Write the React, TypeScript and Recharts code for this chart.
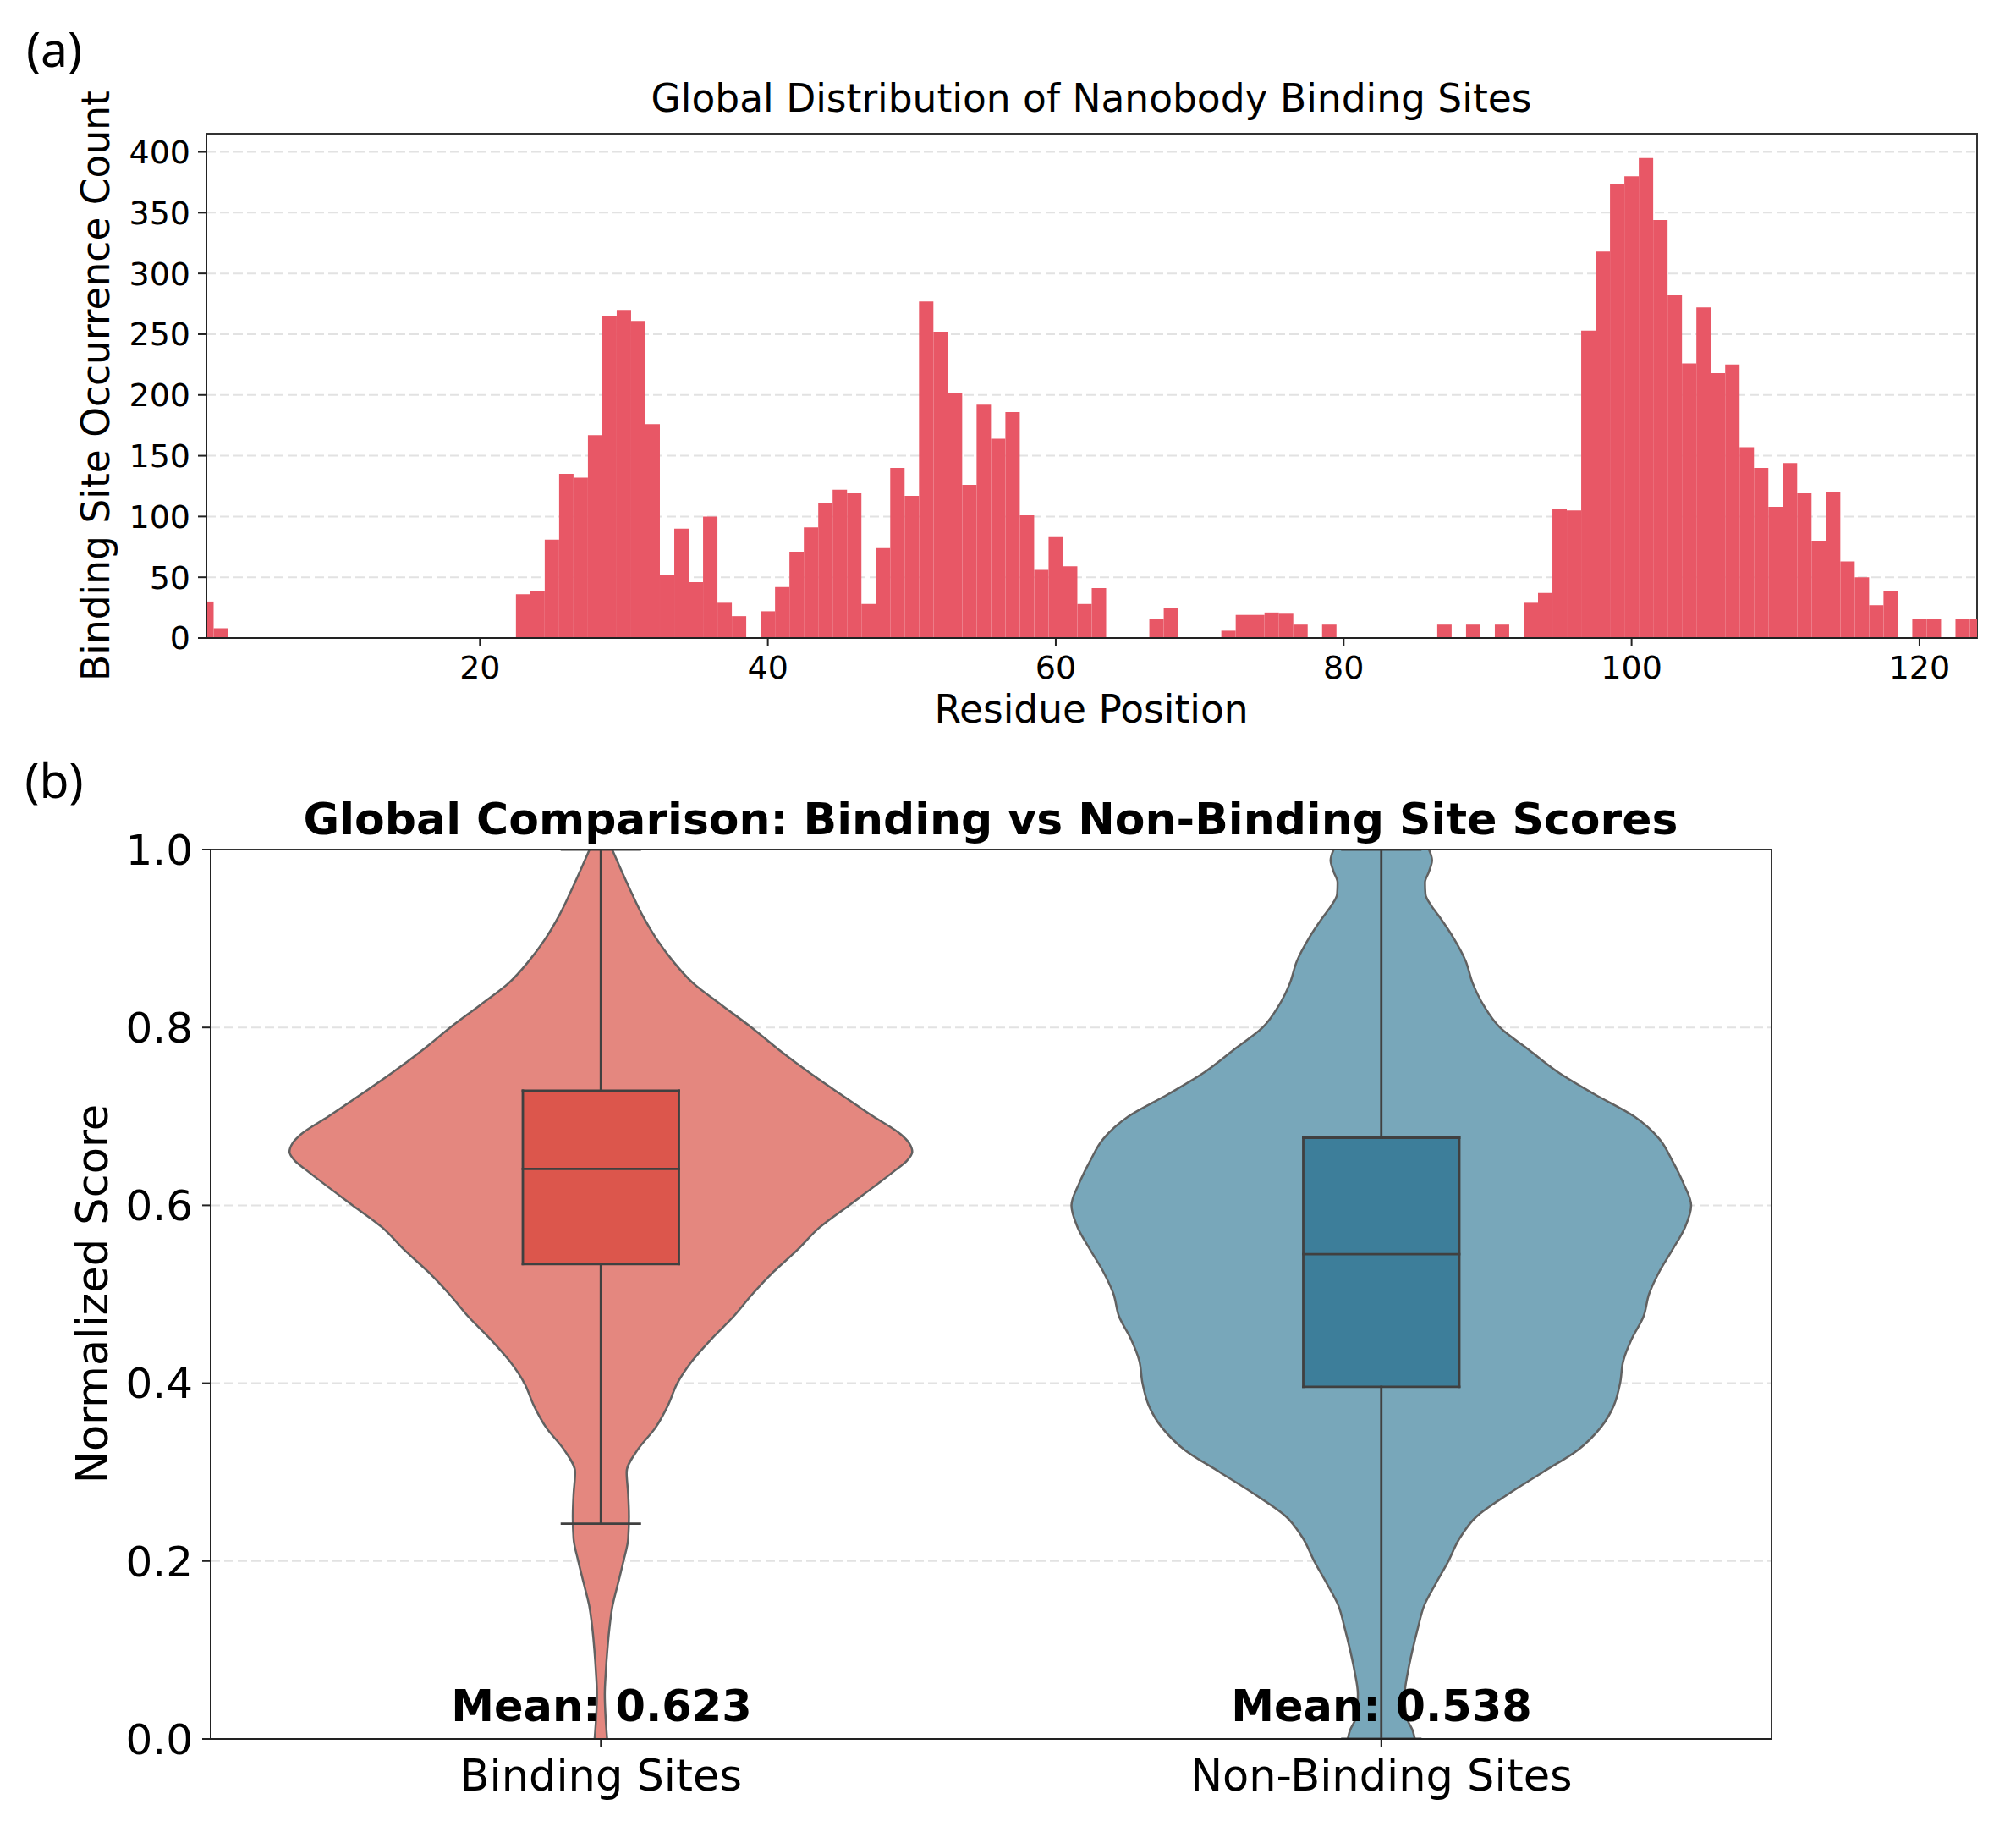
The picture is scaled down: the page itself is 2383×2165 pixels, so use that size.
import React from "react";
import { BarChart, Bar, ComposedChart, Area, Line, XAxis, YAxis, CartesianGrid, ReferenceArea } from "recharts";

// (a) histogram: counts per residue position
const residues = [
  1, 2, 3, 4, 5, 6, 7, 8, 9, 10, 11, 12, 13, 14, 15, 16, 17, 18, 19, 20,
  21, 22, 23, 24, 25, 26, 27, 28, 29, 30, 31, 32, 33, 34, 35, 36, 37, 38, 39, 40,
  41, 42, 43, 44, 45, 46, 47, 48, 49, 50, 51, 52, 53, 54, 55, 56, 57, 58, 59, 60,
  61, 62, 63, 64, 65, 66, 67, 68, 69, 70, 71, 72, 73, 74, 75, 76, 77, 78, 79, 80,
  81, 82, 83, 84, 85, 86, 87, 88, 89, 90, 91, 92, 93, 94, 95, 96, 97, 98, 99, 100,
  101, 102, 103, 104, 105, 106, 107, 108, 109, 110, 111, 112, 113, 114, 115, 116, 117, 118, 119, 120,
  121, 122, 123, 124,
];
const siteCounts = [
  30, 8, 0, 0, 0, 0, 0, 0, 0, 0, 0, 0, 0, 0, 0, 0, 0, 0, 0, 0,
  0, 0, 36, 39, 81, 135, 132, 167, 265, 270, 261, 176, 52, 90, 46, 100, 29, 18, 0, 22,
  42, 71, 91, 111, 122, 119, 28, 74, 140, 117, 277, 252, 202, 126, 192, 164, 186, 101, 56, 83,
  59, 28, 41, 0, 0, 0, 16, 25, 0, 0, 0, 6, 19, 19, 21, 20, 11, 0, 11, 0,
  0, 0, 0, 0, 0, 0, 11, 0, 11, 0, 11, 0, 29, 37, 106, 105, 253, 318, 374, 380,
  395, 344, 282, 226, 272, 218, 225, 157, 140, 108, 144, 119, 80, 120, 63, 50, 27, 39, 0, 16,
  16, 0, 16, 16,
];
const histDomainX = [1, 124];
const histDomainY = [0, 415];
const histTicksX = [20, 40, 60, 80, 100, 120];
const histTicksY = [0, 50, 100, 150, 200, 250, 300, 350, 400];

// (b) violins: half-width of the density at each score
const groups = ["Binding Sites", "Non-Binding Sites"];
const groupPos = [0, 1];
const bindingScores = [
  0, 0.025, 0.05, 0.075, 0.1, 0.125, 0.15, 0.175, 0.2, 0.225, 0.25, 0.275, 0.3, 0.325, 0.35, 0.375,
  0.4, 0.425, 0.45, 0.475, 0.5, 0.525, 0.55, 0.575, 0.6, 0.625, 0.64, 0.65, 0.66, 0.67, 0.68, 0.7,
  0.725, 0.75, 0.775, 0.8, 0.825, 0.85, 0.875, 0.9, 0.925, 0.95, 0.975, 1.0,
];
const bindingHalfWidths = [
  0.008, 0.006, 0.005, 0.0063, 0.0083, 0.011, 0.015, 0.022, 0.029, 0.035, 0.036, 0.035, 0.033, 0.047, 0.07, 0.086,
  0.098, 0.117, 0.142, 0.17, 0.194, 0.221, 0.252, 0.28, 0.318, 0.356, 0.378, 0.392, 0.399, 0.395, 0.384, 0.349,
  0.307, 0.266, 0.228, 0.193, 0.155, 0.118, 0.092, 0.071, 0.054, 0.04, 0.027, 0.0145,
];
const nonBindingScores = [
  0, 0.01, 0.025, 0.05, 0.075, 0.1, 0.125, 0.15, 0.175, 0.2, 0.225, 0.25, 0.275, 0.3, 0.325, 0.35,
  0.375, 0.4, 0.425, 0.45, 0.475, 0.5, 0.525, 0.55, 0.575, 0.6, 0.625, 0.65, 0.675, 0.7, 0.725, 0.75,
  0.775, 0.8, 0.825, 0.85, 0.875, 0.9, 0.925, 0.937, 0.95, 0.963, 0.975, 0.988, 1.0,
];
const nonBindingHalfWidths = [
  0.043, 0.04, 0.032, 0.03, 0.034, 0.04, 0.047, 0.055, 0.07, 0.086, 0.1, 0.122, 0.162, 0.207, 0.252, 0.281,
  0.298, 0.306, 0.31, 0.321, 0.336, 0.343, 0.356, 0.373, 0.389, 0.397, 0.387, 0.373, 0.356, 0.324, 0.273, 0.226,
  0.189, 0.152, 0.131, 0.117, 0.108, 0.093, 0.074, 0.064, 0.0566, 0.056, 0.061, 0.065, 0.061,
];

// box plot statistics per group
const q1 = [0.534, 0.396];
const medians = [0.641, 0.545];
const q3 = [0.729, 0.676];
const whiskerLow = [0.242, 0.0];
const whiskerHigh = [1.0, 1.0];
const means = [0.623, 0.538];

const scoreDomain = [0, 1];
const scoreTicks = [0, 0.2, 0.4, 0.6, 0.8, 1.0];
const groupDomain = [-0.5, 1.5];

const violinFill = ["#e4877f", "#78a7ba"];
const boxFill = ["#dc564c", "#3d7e9a"];
const BOX = 0.1;
const CAP = 0.05;
const FONT = "DejaVu Sans";

const histData = residues.map((r, i) => ({ residue: r, count: siteCounts[i] }));

const violinData = [
  bindingScores.map((s, i) => ({ score: s, span: [groupPos[0] - bindingHalfWidths[i], groupPos[0] + bindingHalfWidths[i]] })),
  nonBindingScores.map((s, i) => ({ score: s, span: [groupPos[1] - nonBindingHalfWidths[i], groupPos[1] + nonBindingHalfWidths[i]] })),
];

const boxData = (g: number) => [
  { score: q1[g], span: [groupPos[g] - BOX, groupPos[g] + BOX] },
  { score: q3[g], span: [groupPos[g] - BOX, groupPos[g] + BOX] },
];

// every box-plot stroke as a two-point segment
const boxSegments = (g: number) => {
  const c = groupPos[g];
  const p = (score: number, x: number) => ({ score, x });
  return [
    [p(q1[g], c - BOX), p(q1[g], c + BOX)],
    [p(q3[g], c - BOX), p(q3[g], c + BOX)],
    [p(q1[g], c - BOX), p(q3[g], c - BOX)],
    [p(q1[g], c + BOX), p(q3[g], c + BOX)],
    [p(medians[g], c - BOX), p(medians[g], c + BOX)],
    [p(whiskerLow[g], c), p(q1[g], c)],
    [p(q3[g], c), p(whiskerHigh[g], c)],
    [p(whiskerLow[g], c - CAP), p(whiskerLow[g], c + CAP)],
    [p(whiskerHigh[g], c - CAP), p(whiskerHigh[g], c + CAP)],
  ];
};

const text = (left: number, top: number, size: number, content: string, extra: React.CSSProperties = {}) => (
  <div
    style={{
      position: "absolute", left, top, fontSize: size, lineHeight: 1, whiteSpace: "nowrap",
      fontFamily: FONT, color: "#000", transform: "translate(-50%, -50%)", ...extra,
    }}
  >
    {content}
  </div>
);

export default function App() {
  return (
    <div style={{ position: "absolute", left: 0, top: 0, width: 2383, height: 2165, background: "#fff", fontFamily: FONT }}>
      <div style={{ position: "absolute", left: 0, top: 0 }}>
        <BarChart width={2383} height={880} data={histData} barCategoryGap={0} barGap={0}
          margin={{ top: 158, right: 46, left: 104, bottom: 46 }}>
          <CartesianGrid vertical={false} stroke="#e2e2e2" strokeWidth={2} strokeDasharray="11 5" />
          <XAxis type="number" dataKey="residue" domain={histDomainX} ticks={histTicksX} allowDataOverflow
            height={80} tickSize={10} tickMargin={11} stroke="#222" strokeWidth={2}
            tick={{ fontSize: 38, fill: "#000", fontFamily: FONT }} />
          <YAxis type="number" domain={histDomainY} ticks={histTicksY} allowDataOverflow
            width={140} tickSize={10} tickMargin={9} stroke="#222" strokeWidth={2}
            tick={{ fontSize: 38, fill: "#000", fontFamily: FONT }} />
          <Bar dataKey="count" fill="#e85766" isAnimationActive={false} />
          <ReferenceArea x1={histDomainX[0]} x2={histDomainX[1]} y1={histDomainY[0]} y2={histDomainY[1]}
            fill="none" stroke="#333" strokeWidth={2} ifOverflow="visible" />
        </BarChart>
      </div>

      <div style={{ position: "absolute", left: 0, top: 880 }}>
        <ComposedChart layout="vertical" width={2383} height={1285}
          margin={{ top: 124, right: 289, left: 99, bottom: 20 }}>
          <CartesianGrid vertical={false} stroke="#e2e2e2" strokeWidth={2} strokeDasharray="11 5" />
          <XAxis type="number" domain={groupDomain} ticks={groupPos} allowDataOverflow
            tickFormatter={(v) => groups[groupPos.indexOf(v)] ?? ""}
            height={90} tickSize={10} tickMargin={15} stroke="#222" strokeWidth={2}
            tick={{ fontSize: 51, fill: "#000", fontFamily: FONT }} />
          <YAxis type="number" dataKey="score" domain={scoreDomain} ticks={scoreTicks} allowDataOverflow reversed
            tickFormatter={(v) => Number(v).toFixed(1)}
            width={150} tickSize={10} tickMargin={11} stroke="#222" strokeWidth={2}
            tick={{ fontSize: 50, fill: "#000", fontFamily: FONT }} />
          {groupPos.map((_, g) => (
            <Area key={`v${g}`} data={violinData[g]} dataKey="span" type="monotone"
              fill={violinFill[g]} fillOpacity={1} stroke="#616161" strokeWidth={2.5}
              isAnimationActive={false} dot={false} activeDot={false} />
          ))}
          {groupPos.map((_, g) => (
            <Area key={`b${g}`} data={boxData(g)} dataKey="span" type="linear"
              fill={boxFill[g]} fillOpacity={1} stroke="none"
              isAnimationActive={false} dot={false} activeDot={false} />
          ))}
          {groupPos.flatMap((_, g) =>
            boxSegments(g).map((seg, k) => (
              <Line key={`l${g}-${k}`} data={seg} dataKey="x" type="linear"
                stroke="#404040" strokeWidth={2.8} strokeLinecap="square" dot={false} activeDot={false}
                isAnimationActive={false} />
            ))
          )}
          <ReferenceArea x1={groupDomain[0]} x2={groupDomain[1]} y1={scoreDomain[0]} y2={scoreDomain[1]}
            fill="none" stroke="#333" strokeWidth={2} ifOverflow="visible" />
        </ComposedChart>
      </div>

      {text(64, 57, 57, "(a)", { fontFamily: "Noto Sans" })}
      {text(1290, 117, 45.5, "Global Distribution of Nanobody Binding Sites")}
      {text(114, 456, 45.5, "Binding Site Occurrence Count", { transform: "translate(-50%, -50%) rotate(-90deg)" })}
      {text(1290, 839, 45.5, "Residue Position")}

      {text(64, 921, 57, "(b)", { fontFamily: "Noto Sans" })}
      {text(1171, 968, 52, "Global Comparison: Binding vs Non-Binding Site Scores", { fontWeight: "bold" })}
      {text(109, 1529, 51, "Normalized Score", { transform: "translate(-50%, -50%) rotate(-90deg)" })}
      {groupPos.map((_, g) => (
        <React.Fragment key={`m${g}`}>
          {text(g === 0 ? 711 : 1633, 2016, 51, `Mean: ${means[g].toFixed(3)}`, { fontWeight: "bold" })}
        </React.Fragment>
      ))}
    </div>
  );
}
